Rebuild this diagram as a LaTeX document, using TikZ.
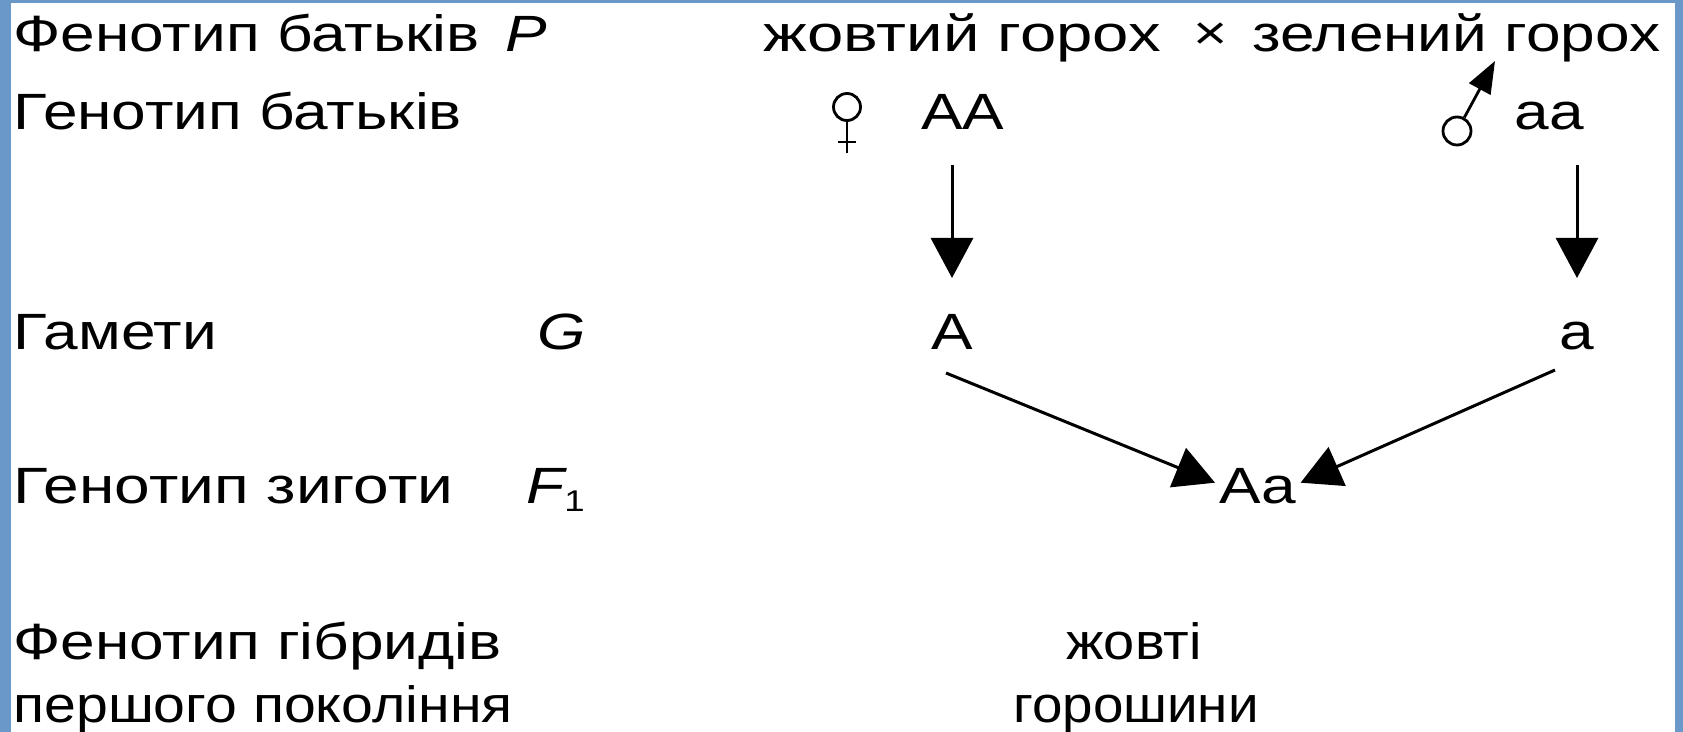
\documentclass[tikz,border=0pt]{standalone}
\usepackage{fontspec}
\usepackage{graphicx}
\setmainfont[FakeStretch=1.22]{Liberation Sans}
\usetikzlibrary{arrows.meta,calc}
\definecolor{frameblue}{HTML}{6A98C8}
\tikzset{
  txt/.style={inner sep=0pt,font=\fontsize{25.5pt}{30pt}\selectfont},
  lbl/.style={txt,anchor=base west},
  ctr/.style={txt,anchor=base},
  arr/.style={line width=1.5pt,-{Triangle[length=20pt,width=21pt]}},
  sym/.style={line width=1.4pt}
}
\begin{document}
\begin{tikzpicture}[x=0.5pt,y=-0.5pt]
\useasboundingbox (0,0) rectangle (1683,732);
\fill[white] (0,0) rectangle (1683,732);
\fill[frameblue] (0,0) rectangle (11,732);
\fill[frameblue] (1675,0) rectangle (1683,732);
\fill[frameblue] (0,0) rectangle (1683,3);
% left column
\node[lbl] (r1) at (13,52) {Фенотип батьків};
\node[lbl] (P) at (505,52) {\itshape P};
\node[lbl] (r2) at (13,130) {Генотип батьків};
\node[lbl] (r3) at (13,350) {Гамети};
\node[lbl] (G) at (537,350) {\itshape G};
\node[lbl] (r4) at (13,504) {\scalebox{1.03}[1]{Генотип зиготи}};
\node[lbl] (F) at (526,504) {{\itshape F}\raisebox{-4pt}{\fontsize{15pt}{15pt}\selectfont 1}};
\node[lbl] (r5) at (13,660) {Фенотип гібридів};
\node[lbl] (r6) at (13,722) {\scalebox{0.92}[1]{першого покоління}};
% right side
\node[lbl] (yel) at (763,52) {\scalebox{1.05}[1]{жовтий горох}};
\node[ctr,font=\fontsize{24pt}{24pt}\selectfont] (x) at (1211,50) {×};
\node[lbl] (grn) at (1252,52) {зелений горох};
\node[lbl] (AA) at (921,130) {АА};
\node[lbl] (aa) at (1514,130) {аа};
\node[ctr] (A) at (952,350) {А};
\node[ctr] (a) at (1577,350) {а};
\node[lbl] (Aa) at (1219,504) {Аа};
\node[ctr] (ph1) at (1134,660) {\scalebox{0.9}[1]{жовті}};
\node[ctr] (ph2) at (1136,722) {\scalebox{0.88}[1]{горошини}};
% sex symbols
\node[circle,draw,sym,minimum size=13.5pt,inner sep=0pt] (fem) at (847,107) {};
\coordinate (fbot) at (847,153);
\draw[sym] (fem.south) -- (fbot);
\draw[sym] (838,142) -- (856,142);
\node[circle,draw,sym,minimum size=14pt,inner sep=0pt] (male) at (1457,131) {};
\coordinate (mtip) at (1495,61);
\draw[sym,-{Triangle[length=16pt,width=12pt]}] (male) -- (mtip);
% arrows
\draw[arr] (A |- 0,165) -- (A |- 0,278);
\draw[arr] (a |- 0,165) -- (a |- 0,278);
\coordinate (gA) at (946,373);
\coordinate (ga) at (1555,370);
\draw[arr] (gA) -- ([xshift=-2pt,yshift=2pt]Aa.west);
\draw[arr] (ga) -- ([xshift=2pt,yshift=2pt]Aa.east);
\end{tikzpicture}
\end{document}
